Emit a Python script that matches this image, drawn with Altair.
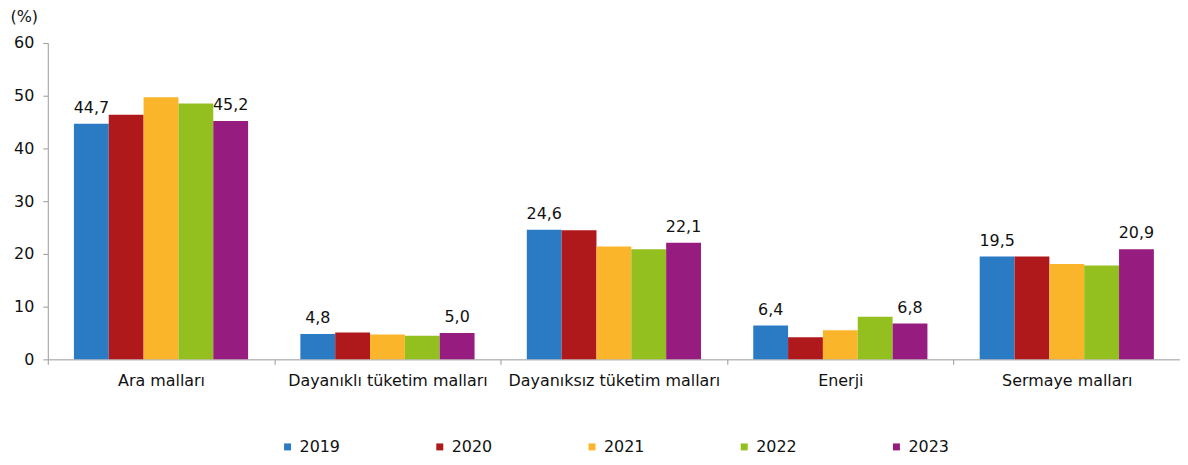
import altair as alt
import pandas as pd

categories = ["Ara malları", "Dayanıklı tüketim malları", "Dayanıksız tüketim malları", "Enerji", "Sermaye malları"]
years = ["2019", "2020", "2021", "2022", "2023"]
v2019 = [44.7, 4.8, 24.6, 6.4, 19.5]
v2020 = [46.4, 5.1, 24.5, 4.2, 19.5]
v2021 = [49.7, 4.7, 21.4, 5.5, 18.1]
v2022 = [48.5, 4.5, 20.9, 8.1, 17.8]
v2023 = [45.2, 5.0, 22.1, 6.8, 20.9]
colors = ["#2A7BC3", "#B0191B", "#FBB52B", "#93C01F", "#971C7F"]

series = [v2019, v2020, v2021, v2022, v2023]
rows = []
for yr, vals in zip(years, series):
    for cat, v in zip(categories, vals):
        rows.append({"cat": cat, "year": yr, "v": v})
df = pd.DataFrame(rows)

FONT = "DejaVu Sans"
TXT = "#111"
FS = 16

x = alt.X("cat:N", sort=categories, title=None,
          scale=alt.Scale(paddingInner=0, paddingOuter=0),
          axis=alt.Axis(labelAngle=0, tickBand="extent", tickSize=5, labelPadding=8,
                        labelFontSize=FS, labelFont=FONT, labelColor=TXT, labelLimit=0,
                        domainColor="#999", tickColor="#999"))
y = alt.Y("v:Q", title="(%)",
          scale=alt.Scale(domain=[0, 60], nice=False),
          axis=alt.Axis(values=[0, 10, 20, 30, 40, 50, 60], grid=False, tickSize=5,
                        labelPadding=9, labelFontSize=FS, labelFont=FONT, labelColor=TXT,
                        domainColor="#999", tickColor="#999",
                        titleAngle=0, titleAlign="left", titleBaseline="alphabetic",
                        titleX=-38, titleY=-22, titleFontSize=FS, titleFont=FONT,
                        titleFontWeight="normal", titleColor=TXT))
xo = alt.XOffset("year:N", sort=years, scale=alt.Scale(paddingInner=0, paddingOuter=0.75))

bars = alt.Chart(df).mark_bar().encode(
    x=x, y=y, xOffset=xo,
    color=alt.Color("year:N", sort=years,
                    scale=alt.Scale(domain=years, range=colors),
                    legend=alt.Legend(title=None, orient="none", direction="horizontal",
                                      legendX=233, legendY=398, symbolType="square",
                                      symbolSize=49, symbolStrokeWidth=0,
                                      labelFontSize=FS, labelFont=FONT, labelColor=TXT,
                                      labelOffset=4, columnPadding=92)),
)

labels = alt.Chart(df).transform_filter(
    "datum.year == '2019' || datum.year == '2023'"
).transform_calculate(
    lab="replace(format(datum.v, '.1f'), '.', ',')"
).mark_text(baseline="alphabetic", dy=-11, fontSize=FS, font=FONT, color=TXT).encode(
    x=x, y=y, xOffset=xo, text="lab:N"
)

chart = alt.layer(bars, labels).properties(
    width=1138, height=318,
    autosize=alt.AutoSizeParams(type="none"),
    padding={"left": 40, "top": 34, "right": 0, "bottom": 100},
).configure_view(stroke=None)

chart.save("out.html", embed_options={"renderer": "svg", "actions": False})
